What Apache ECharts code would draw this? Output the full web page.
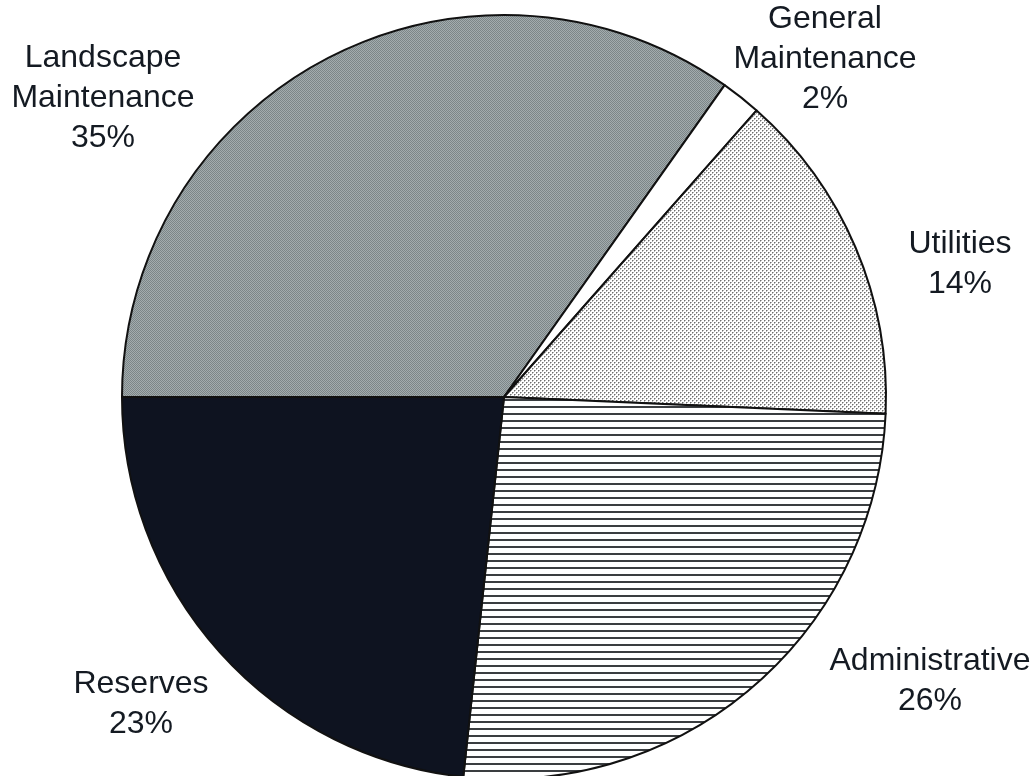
<!DOCTYPE html>
<html>
<head>
<meta charset="utf-8">
<script src="https://cdn.jsdelivr.net/npm/echarts@6/dist/echarts.min.js"></script>
<style>
html,body{margin:0;padding:0;background:#fff;}
#chart{width:1034px;height:776px;}
</style>
</head>
<body>
<div id="chart"></div>
<script>
// Data (clockwise from 9 o'clock)
var categories = ['Landscape\nMaintenance', 'General\nMaintenance', 'Utilities', 'Administrative', 'Reserves'];
var values = [34.8, 1.7, 14.2, 26.0, 23.3];

// label anchor points (text layout only)
var labelSpots = [[103, 98], [825, 59], [960, 264], [930, 681], [141, 704]];

function makePattern(w, h, draw) {
  var c = document.createElement('canvas');
  c.width = w; c.height = h;
  var ctx = c.getContext('2d');
  draw(ctx);
  return { image: c, repeat: 'repeat' };
}

var grayStipple = makePattern(2, 2, function (ctx) {
  ctx.fillStyle = '#a3acae'; ctx.fillRect(0, 0, 2, 2);
  ctx.fillStyle = '#7c8688'; ctx.fillRect(0, 0, 1, 1); ctx.fillRect(1, 1, 1, 1);
});
var dotted = makePattern(4, 4, function (ctx) {
  ctx.fillStyle = '#ffffff'; ctx.fillRect(0, 0, 4, 4);
  ctx.fillStyle = '#6e6e6e'; ctx.fillRect(0, 0, 1, 1); ctx.fillRect(2, 2, 1, 1);
  ctx.fillStyle = '#b4b4b4';
  ctx.fillRect(1, 0, 1, 1); ctx.fillRect(0, 1, 1, 1);
  ctx.fillRect(3, 2, 1, 1); ctx.fillRect(2, 3, 1, 1);
});
var hLines = makePattern(7, 7, function (ctx) {
  ctx.fillStyle = '#ffffff'; ctx.fillRect(0, 0, 7, 7);
  ctx.fillStyle = '#3a3d40'; ctx.fillRect(0, 0, 7, 2);
});
var fills = [grayStipple, '#ffffff', dotted, hLines, '#0e1320'];

var chart = echarts.init(document.getElementById('chart'), null, { renderer: 'canvas' });
chart.setOption({
  backgroundColor: '#ffffff',
  animation: false,
  series: [{
    type: 'pie',
    center: [504, 397],
    radius: 382,
    startAngle: 180,
    clockwise: true,
    avoidLabelOverlap: false,
    silent: true,
    data: categories.map(function (name, i) {
      return { name: name, value: values[i], itemStyle: { color: fills[i] } };
    }),
    itemStyle: { borderColor: '#111111', borderWidth: 2 },
    label: {
      show: true,
      position: 'outside',
      formatter: function (p) { return p.name + '\n' + Math.round(p.percent) + '%'; },
      fontFamily: 'Liberation Sans, Arial, sans-serif',
      fontSize: 32,
      lineHeight: 40,
      color: '#141a22',
      align: 'center'
    },
    labelLine: { show: false },
    labelLayout: function (params) {
      var s = labelSpots[params.dataIndex];
      return { x: s[0], y: s[1], align: 'center', verticalAlign: 'middle' };
    }
  }]
});
</script>
</body>
</html>
